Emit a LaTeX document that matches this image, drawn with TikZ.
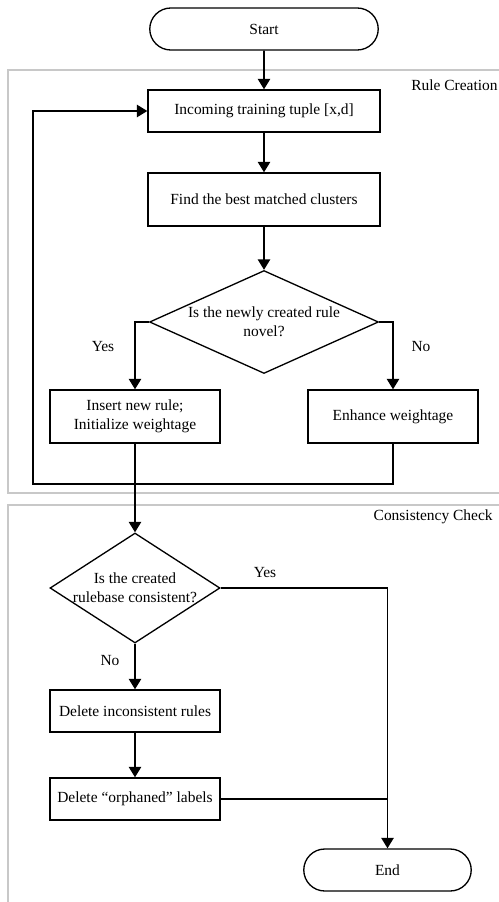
\documentclass[tikz,border=0pt]{standalone}
\usepackage{fontspec}
\setmainfont{Liberation Serif}
\usetikzlibrary{arrows.meta, shapes.geometric, shapes.misc}
\definecolor{clrLine} {HTML}{000000}
\definecolor{clrFrame}{HTML}{C8C8C8}
\tikzset{
  txt/.style = {font=\fontsize{8.8}{10.8}\selectfont, text=clrLine},
  box/.style = {
    rectangle, draw=clrLine, line width=0.75pt,
    minimum width=4.64cm, minimum height=0.84cm,
    align=center, inner sep=1pt, txt,
  },
  boxS/.style  = {box, minimum width=3.4cm},
  term/.style  = {box, rounded rectangle, minimum width=4.64cm},
  decide/.style = {
    diamond, draw=clrLine, line width=0.75pt,
    inner sep=0pt, minimum width=3.4cm, minimum height=2.2cm,
  },
  dtext/.style = {txt, align=center},
  frame/.style = {draw=clrFrame, line width=0.7pt},
  grp/.style   = {txt, anchor=east, inner sep=0pt},
  lbl/.style   = {txt, inner sep=0pt},
  line/.style  = {line width=1.1pt, color=clrLine},
  arr/.style   = {line, -{Triangle[length=6pt, width=7pt]}},
}

\begin{document}
\begin{tikzpicture}[x=0.02cm, y=-0.02cm]

\useasboundingbox (0,0) rectangle (499,902);
\clip (0,0) rectangle (499,902);

% ══════════════════════════════════════════════════════════════════════════
%  Group frames (run off the right edge)
% ══════════════════════════════════════════════════════════════════════════

\draw[frame] (8, 70) rectangle (530, 493);
\draw[frame] (8,505) rectangle (530, 940);
\node[grp] (grule) at (498, 85) {Rule Creation};
\node[grp] (gcons) at (493,517) {Consistency Check};

% ══════════════════════════════════════════════════════════════════════════
%  Rule creation
% ══════════════════════════════════════════════════════════════════════════

\node[term]   (start) at (264,  29  ) {Start};
\node[box]    (inc)   at (264, 111  ) {Incoming training tuple [x,d]};
\node[box, minimum height=1.06cm]
              (find)  at (264, 199.5) {Find the best matched clusters};
\node[decide, minimum width=4.58cm, minimum height=2.06cm,
      label={[dtext]center:Is the newly created rule\\novel?}]
              (novel) at (264, 322  ) {};
\node[boxS, minimum height=1.06cm]
              (ins)   at (135, 416.5) {Insert new rule;\\Initialize weightage};
\node[boxS, minimum height=1.06cm]
              (enh)   at (393, 416.5) {Enhance weightage};

% ══════════════════════════════════════════════════════════════════════════
%  Consistency check
% ══════════════════════════════════════════════════════════════════════════

\node[decide, label={[dtext]center:Is the created\\rulebase consistent?}]
              (cons)  at (135, 588  ) {};
\node[boxS]   (delin) at (135, 711  ) {Delete inconsistent rules};
\node[boxS]   (delor) at (135, 799  ) {Delete ``orphaned'' labels};
\node[term, minimum width=3.42cm]
              (stop)  at (387.5, 870) {End};

\coordinate (lp) at (33, 484);

% ══════════════════════════════════════════════════════════════════════════
%  Arrows
% ══════════════════════════════════════════════════════════════════════════

\draw[arr] (start) -- (inc);
\draw[arr] (inc)   -- (find);
\draw[arr] (find)  -- (novel);
\draw[arr] (novel.west) -| (ins.north);
\draw[arr] (novel.east) -| (enh.north);
\node[lbl] (yes1) at (103, 347) {Yes};
\node[lbl] (no1)  at (421, 347) {No};

% back-edge to the next tuple
\draw[arr] (enh.south) |- (lp) |- (inc.west);
\draw[arr] (ins.south) -- (cons.north);

\draw[arr] (cons.east) -| (stop.north);
\node[lbl] (yes2) at (265, 573) {Yes};
\draw[arr] (cons.south) -- (delin.north);
\node[lbl] (no2)  at (110, 661) {No};
\draw[arr] (delin) -- (delor);
\draw[line] (delor.east) -- (delor.east -| stop.north);

\end{tikzpicture}
\end{document}
